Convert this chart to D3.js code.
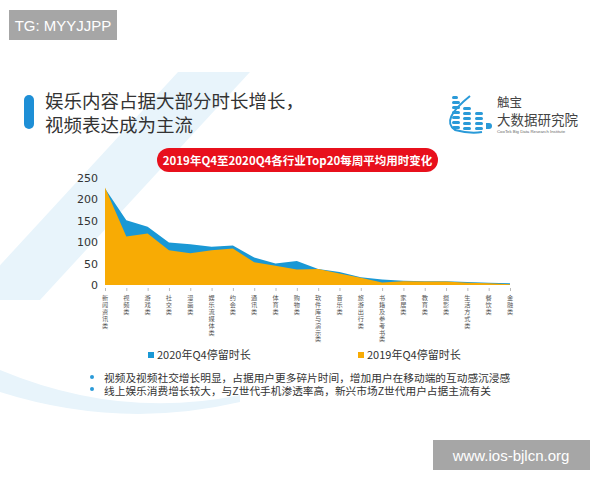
<!DOCTYPE html>
<html lang="zh">
  <head>
    <meta charset="utf-8">
    <title>娱乐内容占据大部分时长增长</title>
    <style>
      html, body { margin: 0; padding: 0; background: #fff; }
      svg { display: block; font-family: "Noto Sans CJK SC", "Noto Sans", sans-serif; }
    </style>
    <script src="https://d3js.org/d3.v7.min.js"></script>
  </head>
  <body>
    <script>
    // data (minutes per week)
    const categories = ["新闻资讯类","视频类","游戏类","社交类","漫画类","娱乐流媒体类","约会类","通讯类","体育类","购物类",
      "软件库与演示类","音乐类","旅游出行类","书籍及参考书类","家居类","教育类","摄影类","生活方式类","餐饮类","金融类"]
    const q4_2020 = [225,151,136,99,95,89,92,64,50,56,37,30,18,13,10,9,9,7,5,4]
    const q4_2019 = [227,113,120,81,74,81,85,53,45,36,37,27,17,6,9,8,8,5,4,2]
    const yTicks = [0,50,100,150,200,250]
    const seriesNames = ["2020年Q4停留时长","2019年Q4停留时长"]
    const bullets = ["视频及视频社交增长明显，占据用户更多碎片时间，增加用户在移动端的互动感沉浸感",
      "线上娱乐消费增长较大，与Z世代手机渗透率高，新兴市场Z世代用户占据主流有关"]

    const width = 600, height = 480
    const blue = "#1a98d5", orange = "#f8ab04"

    const svg = d3.select("body").append("svg")
      .attr("width", width)
      .attr("height", height)

    // background decoration
    const deco = svg.append("g")
    deco.append("path")
      .attr("d", "M178,72 L250,72 L40,300 L-32,300 Z")
      .attr("fill", "#e8f4fb")
    deco.append("path")
      .attr("d", "M0,370 Q120,420 240,395 L240,402 Q120,430 0,392 Z")
      .attr("fill", "#e8f4fb")

    // watermarks
    svg.append("rect").attr("x", 9).attr("y", 10).attr("width", 108).attr("height", 30).attr("fill", "#a6a6a6")
    svg.append("text").attr("x", 63).attr("y", 31).attr("text-anchor", "middle")
      .attr("fill", "#fff").style("font-family", "Liberation Sans, Arial, sans-serif").style("font-size", "15px")
      .text("TG: MYYJJPP")
    svg.append("rect").attr("x", 433).attr("y", 440).attr("width", 157).attr("height", 30).attr("fill", "#a6a6a6")
    svg.append("text").attr("x", 511).attr("y", 461).attr("text-anchor", "middle")
      .attr("fill", "#fff").style("font-family", "Liberation Sans, Arial, sans-serif").style("font-size", "15px")
      .text("www.ios-bjlcn.org")

    // title
    svg.append("rect").attr("x", 24).attr("y", 95).attr("width", 10).attr("height", 34).attr("rx", 5)
      .attr("fill", "#1e8fd6")
    svg.append("text").attr("x", 45).attr("y", 108).attr("fill", "#333").style("font-size", "18.5px")
      .text("娱乐内容占据大部分时长增长，")
    svg.append("text").attr("x", 45).attr("y", 132).attr("fill", "#333").style("font-size", "18.5px")
      .text("视频表达成为主流")

    // logo
    const logo = svg.append("g").attr("fill", "#2a9ad8")
    ;[[452,96,6],[452,101,8],[452,106,8],[452,111,8],[452,116,8],[452,121,8],[452,126,8]].forEach(d => {
      logo.append("rect").attr("x", d[0]).attr("y", d[1]).attr("width", d[2]).attr("height", 3).attr("rx", 1.5)
    })
    ;[[463,107,8],[463,112,8],[463,117,8],[463,122,8],[463,127,8]].forEach(d => {
      logo.append("rect").attr("x", d[0]).attr("y", d[1]).attr("width", d[2]).attr("height", 3).attr("rx", 1.5)
    })
    ;[[475,112,8],[475,117,8],[475,122,8],[475,127,8]].forEach(d => {
      logo.append("rect").attr("x", d[0]).attr("y", d[1]).attr("width", d[2]).attr("height", 3).attr("rx", 1.5)
    })
    logo.append("path").attr("d", "M470,96 Q440,120 455,130 Q470,134 482,132")
      .attr("fill", "none").attr("stroke", "#2a9ad8").attr("stroke-width", 2)
    logo.append("path").attr("d", "M486,123 h3 a3,3 0 0 1 0,6 h-3 Z").attr("fill", "#2a9ad8")
    svg.append("text").attr("x", 497).attr("y", 107).attr("fill", "#444").style("font-size", "12.5px").text("触宝")
    svg.append("text").attr("x", 497).attr("y", 125).attr("fill", "#444").style("font-size", "13.5px").text("大数据研究院")
    svg.append("text").attr("x", 497).attr("y", 133).attr("fill", "#666")
      .style("font-family", "Liberation Sans, Arial, sans-serif").style("font-size", "4.3px")
      .text("CooTek Big Data Research Institute")

    // red banner
    svg.append("rect").attr("x", 157).attr("y", 148).attr("width", 281).attr("height", 24).attr("rx", 12)
      .attr("fill", "#e8101c")
    svg.append("text").attr("x", 297.5).attr("y", 164.5).attr("text-anchor", "middle").attr("fill", "#fff")
      .style("font-size", "11.5px").style("font-weight", "bold")
      .text("2019年Q4至2020Q4各行业Top20每周平均用时变化")

    // chart
    const x = d3.scalePoint().domain(categories).range([105, 510])
    const y = d3.scaleLinear().domain([0, 250]).range([285, 177.7])

    const area = vals => d3.area()
      .x((d, i) => x(categories[i]))
      .y0(y(0))
      .y1(d => y(d))(vals)

    svg.append("path").attr("d", area(q4_2020)).attr("fill", blue)
    svg.append("path").attr("d", area(q4_2019)).attr("fill", orange)

    const yAxis = svg.append("g")
      .attr("transform", "translate(100,0)")
      .call(d3.axisLeft(y).tickValues(yTicks).tickSize(0).tickPadding(2))
    yAxis.select(".domain").remove()
    yAxis.selectAll("text").attr("fill", "#333").style("font-size", "11px")
      .style("font-family", "DejaVu Sans, sans-serif")

    const xAxis = svg.append("g")
      .attr("transform", "translate(0,288)")
      .call(d3.axisBottom(x).tickSize(3))
    xAxis.select(".domain").remove()
    xAxis.selectAll(".tick text").remove()
    xAxis.selectAll(".tick line").attr("stroke", "#bbb")

    // vertical category labels, one character per line
    const labels = svg.append("g").attr("fill", "#555").style("font-size", "6.2px")
    categories.forEach(c => {
      const t = labels.append("text").attr("text-anchor", "middle")
      Array.from(c).forEach((ch, j) => {
        t.append("tspan").attr("x", x(c)).attr("y", 300 + j * 6.9).text(ch)
      })
    })

    // legend
    const legend = svg.append("g")
    ;[[148, blue], [358, orange]].forEach((d, i) => {
      legend.append("rect").attr("x", d[0]).attr("y", 352).attr("width", 6).attr("height", 6).attr("fill", d[1])
      legend.append("text").attr("x", d[0] + 9).attr("y", 359).attr("fill", "#333").style("font-size", "11px")
        .text(seriesNames[i])
    })

    // bullets
    bullets.forEach((b, i) => {
      svg.append("circle").attr("cx", 92).attr("cy", 377 + i * 12).attr("r", 2).attr("fill", "#2a9ad8")
      svg.append("text").attr("x", 104).attr("y", 382 + i * 13).attr("fill", "#333").style("font-size", "10.7px")
        .text(b)
    })
    </script>
  </body>
</html>
